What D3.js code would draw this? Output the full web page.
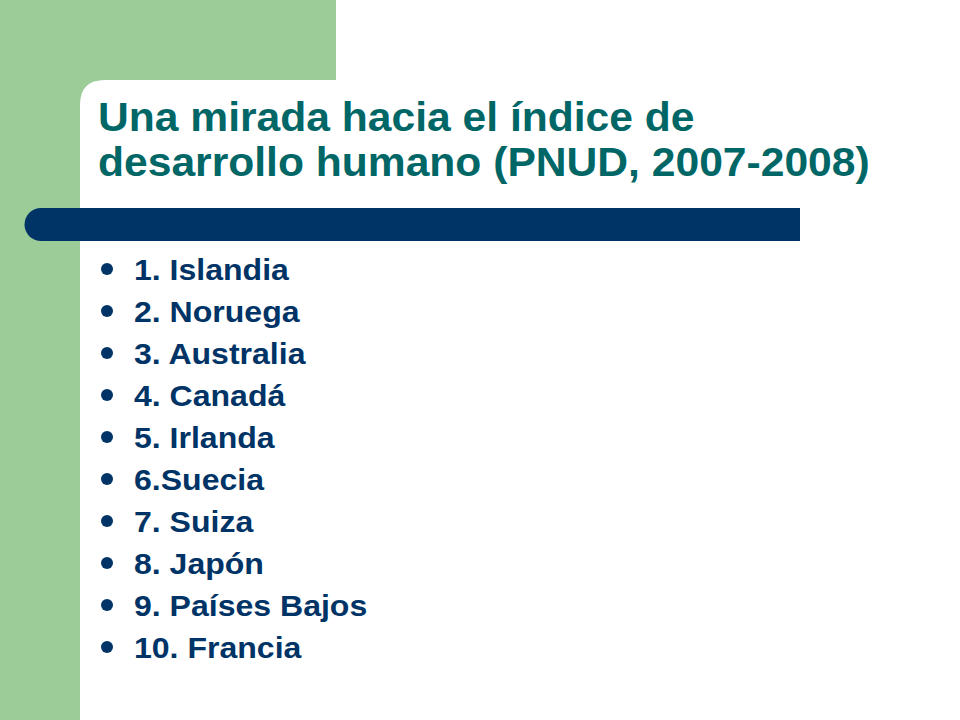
<!DOCTYPE html>
<html>
<head>
<meta charset="utf-8">
<script src="https://cdn.jsdelivr.net/npm/d3@7"></script>
<style>
  html, body { margin: 0; padding: 0; background: #fff; }
</style>
</head>
<body>
<div id="slide"></div>
<script>
// slide content
var titleLines = ["Una mirada hacia el índice de", "desarrollo humano (PNUD, 2007-2008)"];
var ranks = ["1.", "2.", "3.", "4.", "5.", "6.", "7.", "8.", "9.", "10."];
var countries = ["Islandia", "Noruega", "Australia", "Canadá", "Irlanda", "Suecia", "Suiza", "Japón", "Países Bajos", "Francia"];
var separators = [" ", " ", " ", " ", " ", "", " ", " ", " ", " "];

var width = 960, height = 720;

var svg = d3.select("#slide")
  .append("svg")
    .attr("width", width)
    .attr("height", height);

/** green frame: left column plus top block */
svg.append("rect")
  .attr("x", 0).attr("y", 0)
  .attr("width", 336).attr("height", 110)
  .attr("fill", "#9ccc98");
svg.append("rect")
  .attr("x", 0).attr("y", 0)
  .attr("width", 80).attr("height", height)
  .attr("fill", "#9ccc98");

/** white content area with rounded top-left corner */
svg.append("path")
  .attr("d", "M80,720 L80,105 Q80,80 105,80 L960,80 L960,720 Z")
  .attr("fill", "#ffffff");
svg.append("rect")
  .attr("x", 336).attr("y", 0)
  .attr("width", width - 336).attr("height", 80)
  .attr("fill", "#ffffff");

/** dark blue rule with rounded left end */
svg.append("path")
  .attr("d", "M41,208 L800,208 L800,241 L41,241 A16.5,16.5 0 0 1 41,208 Z")
  .attr("fill", "#003366");

/** title */
svg.selectAll("text.title")
  .data(titleLines)
  .enter()
  .append("text")
    .attr("class", "title")
    .attr("transform", function(d, i) { return "translate(98," + (131 + i * 45) + ") scale(1.065,1)"; })
    .style("font-family", "'Liberation Sans', Arial, sans-serif")
    .style("font-weight", "bold")
    .style("font-size", "40px")
    .style("fill", "#006666")
    .text(function(d) { return d; });

/** bullet list */
var y = d3.scaleLinear()
  .domain([0, ranks.length - 1])
  .range([280, 658]);

var rows = svg.selectAll("g.item")
  .data(countries)
  .enter()
  .append("g")
    .attr("class", "item")
    .attr("transform", function(d, i) { return "translate(0," + y(i) + ")"; });

rows.append("circle")
  .attr("cx", 107)
  .attr("cy", -11)
  .attr("r", 6)
  .attr("fill", "#003366");

rows.append("text")
  .attr("transform", "translate(134,0) scale(1.12,1)")
  .style("font-family", "'Liberation Sans', Arial, sans-serif")
  .style("font-weight", "bold")
  .style("font-size", "28.6px")
  .style("fill", "#003366")
  .text(function(d, i) { return ranks[i] + separators[i] + d; });
</script>
</body>
</html>
